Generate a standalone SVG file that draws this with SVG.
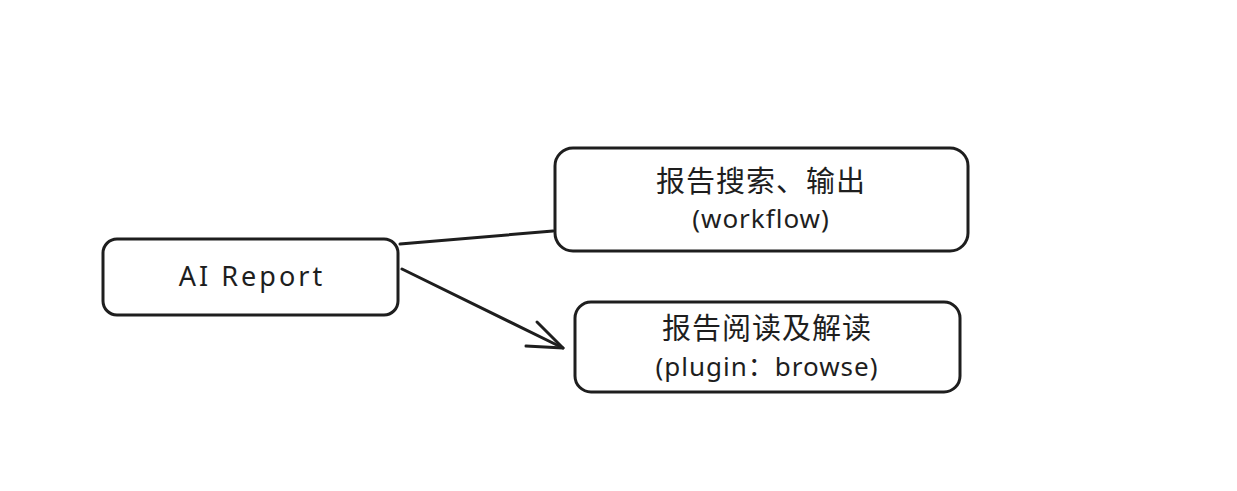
<svg xmlns="http://www.w3.org/2000/svg" width="1237" height="491" viewBox="0 0 1237 491">
  <style>
    .box { fill: #ffffff; stroke: #1e1e1e; stroke-width: 3; }
    .edge { fill: none; stroke: #1e1e1e; stroke-width: 3; stroke-linecap: round; stroke-linejoin: round; }
    .lbl { font-family: "Noto Sans", "Noto Sans CJK SC", sans-serif; fill: #1e1e1e; text-anchor: middle; }
    .cjk { font-family: "Noto Sans CJK SC", sans-serif; font-size: 29px; letter-spacing: 1px; }
    .lat { font-size: 26px; letter-spacing: 1px; }
    .big { font-size: 27px; letter-spacing: 3px; }
  </style>
  <rect width="1237" height="491" fill="#ffffff"/>
  <g id="connectors">
    <path class="edge" d="M 400 244 L 553 231"/>
    <path class="edge" d="M 402 269 L 563 348"/>
    <path class="edge" d="M 537 322 L 563 348 L 526 346"/>
  </g>
  <g id="node-ai-report">
    <rect class="box" x="103" y="239" width="295" height="76" rx="14"/>
    <text class="lbl big" x="252" y="286">AI Report</text>
  </g>
  <g id="node-workflow">
    <rect class="box" x="555" y="148" width="413" height="103" rx="18"/>
    <text class="lbl cjk" x="761" y="192">报告搜索、输出</text>
    <text class="lbl lat" x="761" y="228">(workflow)</text>
  </g>
  <g id="node-plugin">
    <rect class="box" x="575" y="302" width="385" height="90" rx="16"/>
    <text class="lbl cjk" x="767" y="339">报告阅读及解读</text>
    <text class="lbl lat" x="767" y="376">(plugin：browse)</text>
  </g>
</svg>
